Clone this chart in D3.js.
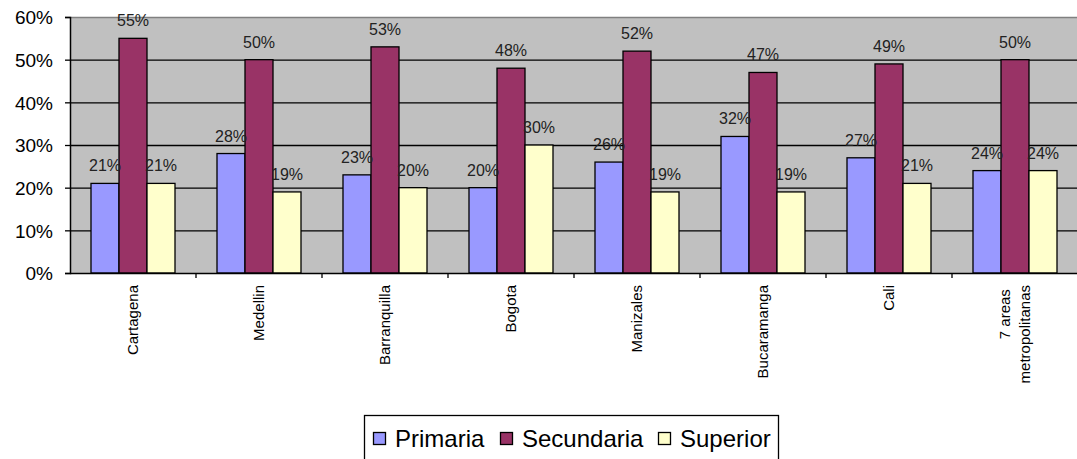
<!DOCTYPE html>
<html>
<head>
<meta charset="utf-8">
<script src="https://cdn.jsdelivr.net/npm/d3@7"></script>
<style>
  body { margin: 0; background: #fff; }
  text { font-family: Arial, "Liberation Sans", sans-serif; }
</style>
</head>
<body>
<div id="chart"></div>
<script>
// datos
var ciudades = ['Cartagena', 'Medellin', 'Barranquilla', 'Bogota', 'Manizales',
                'Bucaramanga', 'Cali', '7 areas metropolitanas'];
var etiquetas = [['Cartagena'], ['Medellin'], ['Barranquilla'], ['Bogota'], ['Manizales'],
                 ['Bucaramanga'], ['Cali'], ['7 areas ', 'metropolitanas']];
var series = ['Primaria', 'Secundaria', 'Superior'];
var primaria   = [21, 28, 23, 20, 26, 32, 27, 24];
var secundaria = [55, 50, 53, 48, 52, 47, 49, 50];
var superior   = [21, 19, 20, 30, 19, 19, 21, 24];
var colores = ['#9999FF', '#993366', '#FFFFCC'];
var yTicks = [0, 10, 20, 30, 40, 50, 60];

var W = 1077, H = 459;
var m = { left: 70, right: 1078, top: 17, bottom: 273 };

var valores = [primaria, secundaria, superior];

var svg = d3.select('#chart').append('svg')
    .attr('width', W).attr('height', H);

var fx = d3.scaleBand().domain(ciudades).range([m.left, m.right]);
var fs = d3.scaleBand().domain(series)
    .range([0, fx.bandwidth()]).paddingOuter(0.75).paddingInner(0);
var fy = d3.scaleLinear().domain([0, 60]).range([m.bottom, m.top]);

// fondo del area
svg.append('rect')
    .attr('x', m.left).attr('y', m.top)
    .attr('width', m.right - m.left).attr('height', m.bottom - m.top)
    .attr('fill', '#C0C0C0');

// lineas de division
svg.selectAll('line.grid')
    .data(yTicks.filter(function(d) { return d > 0 && d < 60; }))
    .enter().append('line')
      .attr('class', 'grid')
      .attr('x1', m.left).attr('x2', m.right)
      .attr('y1', function(d) { return fy(d) + 0.5; })
      .attr('y2', function(d) { return fy(d) + 0.5; })
      .attr('stroke', '#000').attr('stroke-width', 1.3);

svg.append('line')
    .attr('x1', m.left).attr('x2', m.right)
    .attr('y1', fy(60) + 0.5).attr('y2', fy(60) + 0.5)
    .attr('stroke', '#808080').attr('stroke-width', 1.3);

// barras
var g = svg.selectAll('g.ciudad')
    .data(ciudades).enter()
    .append('g')
      .attr('class', 'ciudad')
      .attr('transform', function(d) { return 'translate(' + fx(d) + ',0)'; });

series.forEach(function(s, k) {
    g.append('rect')
        .attr('x', function(d, i) { return fs(s); })
        .attr('y', function(d, i) { return fy(valores[k][i]); })
        .attr('width', fs.bandwidth())
        .attr('height', function(d, i) { return fy(0) - fy(valores[k][i]); })
        .attr('fill', colores[k])
        .attr('stroke', '#000').attr('stroke-width', 1.3);
});

series.forEach(function(s, k) {
    g.append('text')
        .attr('x', function(d, i) { return fs(s) + fs.bandwidth() / 2; })
        .attr('y', function(d, i) { return fy(valores[k][i]) - 12; })
        .attr('text-anchor', 'middle')
        .style('font-size', '16px')
        .style('fill', '#222')
        .text(function(d, i) { return valores[k][i] + '%'; });
});

// eje y
var ay = svg.append('g')
    .attr('transform', 'translate(' + m.left + ',0)')
    .call(d3.axisLeft(fy).tickValues(yTicks).tickSize(5).tickPadding(12)
          .tickFormat(function(d) { return d + '%'; }));
ay.select('.domain').attr('stroke', '#000').attr('stroke-width', 1.5);
ay.selectAll('.tick line').attr('stroke', '#000').attr('stroke-width', 1.3);
ay.selectAll('.tick text')
    .style('font-size', '19px').style('fill', '#000')
    .attr('font-family', null).attr('dy', '0.36em');
ay.attr('font-family', null);

// eje x
svg.append('line')
    .attr('x1', m.left).attr('x2', m.right)
    .attr('y1', m.bottom + 0.5).attr('y2', m.bottom + 0.5)
    .attr('stroke', '#000').attr('stroke-width', 1.5);

svg.selectAll('line.xtick')
    .data(ciudades.slice(1)).enter()
    .append('line')
      .attr('class', 'xtick')
      .attr('x1', function(d) { return fx(d); })
      .attr('x2', function(d) { return fx(d); })
      .attr('y1', m.bottom).attr('y2', m.bottom + 5)
      .attr('stroke', '#000').attr('stroke-width', 1.3);

var lbl = svg.selectAll('g.lbl')
    .data(ciudades).enter()
    .append('g')
      .attr('class', 'lbl')
      .attr('transform', function(d) {
          return 'translate(' + (fx(d) + fx.bandwidth() / 2) + ',' + (m.bottom + 12) + ') rotate(-90)';
      });

lbl.each(function(d, i) {
    var lineas = etiquetas[i];
    var n = lineas.length;
    d3.select(this).selectAll('text')
        .data(lineas).enter()
        .append('text')
          .attr('text-anchor', 'end')
          .attr('x', 0)
          .attr('y', function(t, j) { return (j - (n - 1) / 2) * 20; })
          .attr('dy', '0.35em')
          .style('font-size', '15px')
          .style('fill', '#000')
          .style('white-space', 'pre')
          .text(function(t) { return t; });
});

// leyenda
var leg = svg.append('g');
leg.append('rect')
    .attr('x', 364.5).attr('y', 415.5)
    .attr('width', 414).attr('height', 50)
    .attr('fill', '#fff').attr('stroke', '#000').attr('stroke-width', 1.3);

var legX = [373, 500, 658];
series.forEach(function(s, k) {
    leg.append('rect')
        .attr('x', legX[k] + 0.5).attr('y', 432.5)
        .attr('width', 12).attr('height', 12)
        .attr('fill', colores[k]).attr('stroke', '#000').attr('stroke-width', 1.3);
    leg.append('text')
        .attr('x', legX[k] + 22).attr('y', 447)
        .style('font-size', '24px').style('fill', '#000')
        .text(s);
});
</script>
</body>
</html>
